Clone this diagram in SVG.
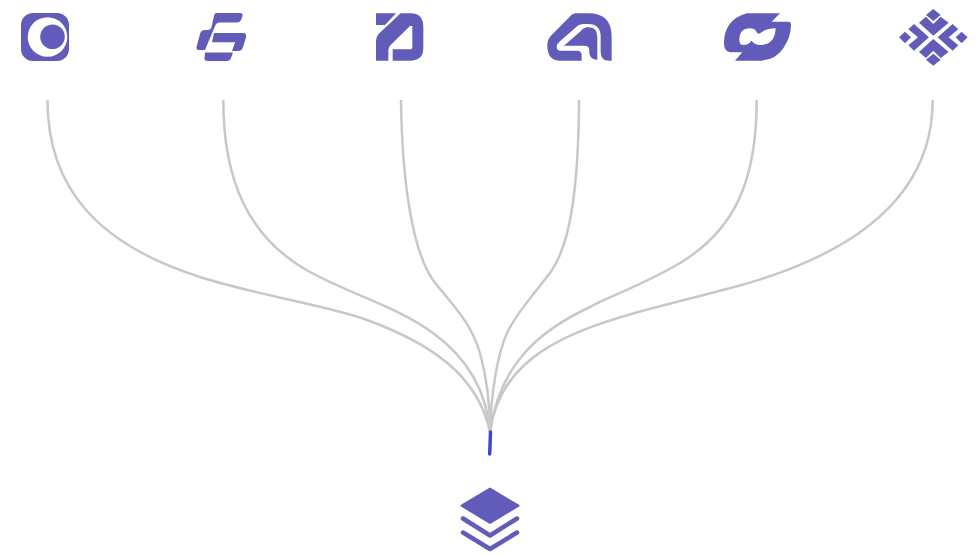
<svg xmlns="http://www.w3.org/2000/svg" width="980" height="555" viewBox="0 0 980 555">
<style>
.logo{fill:#615cb9;fill-rule:evenodd}
.cut{fill:#fff}
.wire{fill:none;stroke:#c8c8c8;stroke-width:2.500}
.pulse{fill:none;stroke:#3f45d6;stroke-width:3.500;stroke-linecap:round}
.chev{fill:none;stroke:#615cb9;stroke-width:4.500;stroke-linecap:round;stroke-linejoin:round}
</style>
<rect width="980" height="555" fill="#fff"/>
<g id="connectors">
<path class="wire" d="M47.500 100C47.500 190 100 245 200 277C260 296 330 306 367 320C430 343 478 375 490 432"/>
<path class="wire" d="M223.300 100C223.300 180 248 238 310 272C350 294 400 308 433 333C470 360 487 395 490 432"/>
<path class="wire" d="M401 100C402 180 412 250 433 280C452 305 470 320 480 353C486 375 490 400 490 432"/>
<path class="wire" d="M579 100C578.500 180 572 240 552 270C538 290 518 310 507 333C497 355 491 395 490 432"/>
<path class="wire" d="M756.700 100C756.700 180 735 230 680 263C645 284 610 296 590 307C545 328 500 360 490 432"/>
<path class="wire" d="M932.700 100C932.700 200 850 258 723 290C700 296 680 301 657 307C560 332 500 360 490 432"/>
<path class="pulse" d="M490.500 432L489.700 454"/>
</g>
<g id="node-1">
<rect class="logo" x="21" y="13" width="48" height="48" rx="12"/>
<circle class="cut" cx="47.500" cy="37" r="19.800"/>
<circle class="logo" cx="52.500" cy="36.800" r="12.300"/>
</g>
<g id="node-2">
<path class="logo" d="M216 13H240Q243 13 242.500 16L241 20Q240 22.500 237 22.500H219Q216.500 22.500 215.500 25L205 50H199Q196 50 196.500 47L200 34Q201 30 205 30H208Q210.500 30 211.500 27L214 16Q214.500 13 216 13Z"/>
<path class="logo" d="M214 33H243Q247 33 246 37.500L243 47Q242 51 238 51H232L235 42.300H212Z"/>
<path class="logo" d="M205 52.500H233L231 58Q230 61 227 61H208Q204 61 204.500 58Z"/>
</g>
<g id="node-3" transform="translate(360 0) scale(.3333)">
<path class="logo" d="M48 40H108L75 75H48Z"/>
<path class="logo" d="M122 40H150Q190 40 190 80V145Q190 182 150 182H98V148H150Q157 148 157 140V78H150L92 135Q85 142 85 150V182H48V125Q48 110 58 100Z"/>
</g>
<g id="node-4" transform="translate(360 0) scale(.3333)">
<path class="logo" d="M645 40H685Q755 40 755 110V182H748Q722 182 722 155V110Q722 72 685 72H672Q658 72 648 82L600 124Q590 132 590 140Q590 152 602 152H650Q665 152 665 165V182H600Q562 182 562 135Q562 118 575 105L625 55Q635 42 645 40Z"/>
<path class="logo" d="M612 137L660 95Q668 85 680 82H685Q712 82 712 110V180Q690 178 688 160V150Q688 137 672 137Z"/>
</g>
<g id="node-5" transform="translate(710 0) scale(.3333)">
<path class="logo" d="M110 40H210L185 65H235Q243 65 243 75Q243 110 220 145Q195 182 150 182H75L97 157H62Q42 155 42 130Q42 60 110 40ZM120 85Q88 85 88 120Q88 135 100 135Q115 135 125 122Q135 135 150 135Q195 135 197 85Q170 85 155 97Q145 105 140 97Q135 85 120 85Z"/>
</g>
<g id="node-6" transform="translate(710 0) scale(.3333)">
<path class="logo" d="M670 27L692 45L670 63L648 45Z"/>
<path class="logo" d="M670 197L692 179L670 161L648 179Z"/>
<path class="logo" d="M567 112L585 95L603 112L585 130Z"/>
<path class="logo" d="M773 112L755 95L737 112L755 130Z"/>
<path class="logo" d="M627 68L648 50L670 72L692 50L716 68L670 107Z"/>
<path class="logo" d="M627 156L648 174L670 152L692 174L716 156L670 117Z"/>
<path class="logo" d="M612 72L657 112L612 152L595 136L624 112L595 88Z"/>
<path class="logo" d="M728 72L683 112L728 152L745 136L716 112L745 88Z"/>
</g>
<g id="node-7">
<path d="M490 488.500L518.500 505.700L490 523L461.500 505.700Z" fill="#615cb9" stroke="#615cb9" stroke-width="2" stroke-linejoin="round"/>
<path class="chev" d="M463 518.500L490 535.500L517 518.500"/>
<path class="chev" d="M463 532.500L490 549L517 532.500"/>
</g>
</svg>
